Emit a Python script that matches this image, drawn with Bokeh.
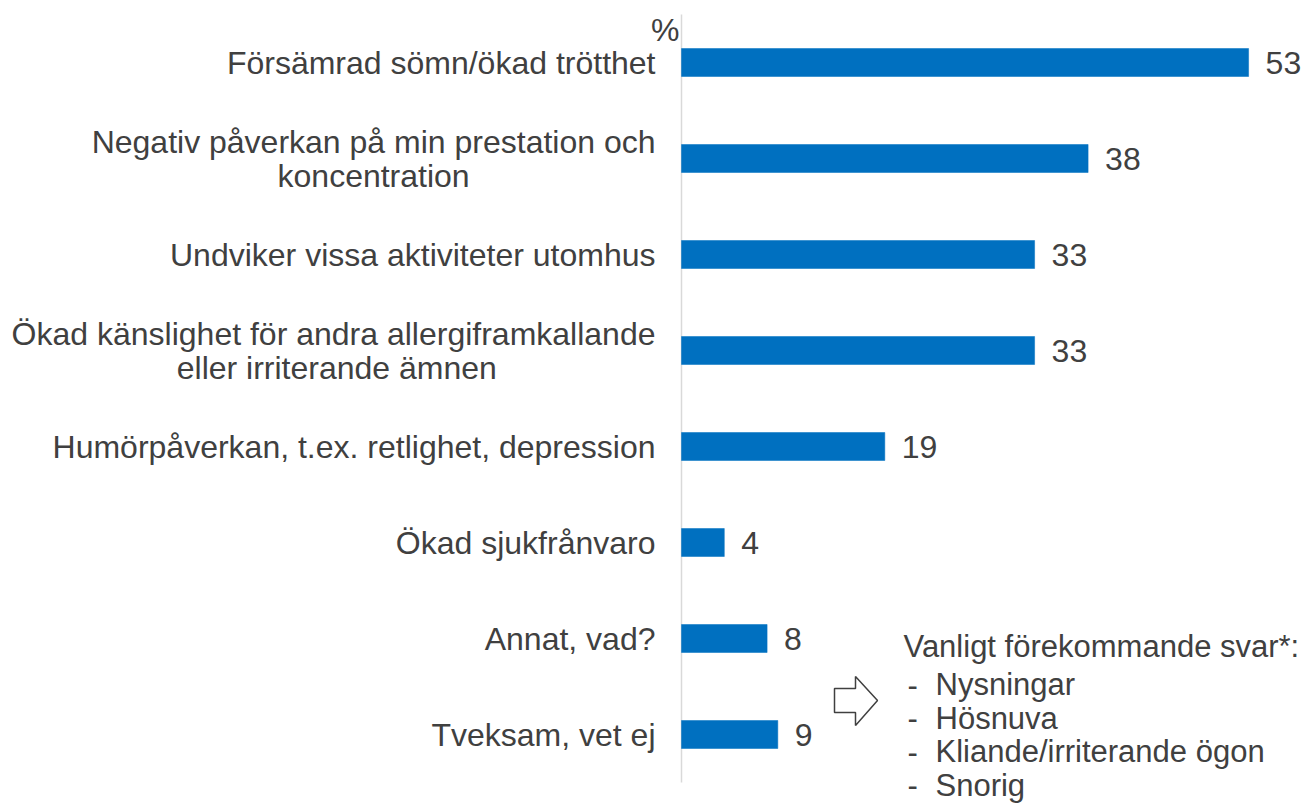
from bokeh.plotting import figure
from bokeh.models import ColumnDataSource, LabelSet, Label, Range1d, PolyAnnotation
from bokeh.core.properties import value
from bokeh.embed import file_html
from bokeh.resources import INLINE

# ---------------- data ----------------
categories = [
    "Försämrad sömn/ökad trötthet",
    "Negativ påverkan på min prestation och\nkoncentration",
    "Undviker vissa aktiviteter utomhus",
    "Ökad känslighet för andra allergiframkallande\neller irriterande ämnen",
    "Humörpåverkan, t.ex. retlighet, depression",
    "Ökad sjukfrånvaro",
    "Annat, vad?",
    "Tveksam, vet ej",
]
values = [53, 38, 33, 33, 19, 4, 8, 9]
unit_label = "%"
note_title = "Vanligt förekommande svar*:"
note_items = ["Nysningar", "Hösnuva", "Kliande/irriterande ögon", "Snorig"]

# ---------------- style ----------------
FONT = value("Liberation Sans")
FS = "32px"
NFS = "31px"
TXT = "#404040"
BAR = "#0070C0"
W, H = 1308, 806
X0_PX = 681.0          # page x of value 0
PX_PER_UNIT = 10.7
ROW0_PX = 62.0         # page y of first row centre
ROW_PX = 96.0

def dx(px):
    return (px - X0_PX) / PX_PER_UNIT

def dy(py):
    return (py - ROW0_PX) / ROW_PX

n = len(categories)
pos = list(range(n))

p = figure(width=W, height=H, output_backend="svg", toolbar_location=None,
           x_axis_location=None, y_axis_location=None,
           x_range=Range1d(dx(0), dx(W)), y_range=Range1d(dy(H), dy(0)),
           min_border_left=0, min_border_right=0, min_border_top=0,
           min_border_bottom=0)
p.outline_line_color = None
p.grid.visible = False
p.background_fill_color = "white"
p.border_fill_color = "white"

# category axis line (spans the category band)
p.segment(x0=[0], x1=[0], y0=[-0.5], y1=[n - 0.5], line_color="#d9d9d9", line_width=1.5)

src = ColumnDataSource(dict(pos=pos, val=values, lbl=[str(v) for v in values]))
p.hbar(y="pos", left=0, right="val", height=28 / ROW_PX, source=src,
       fill_color=BAR, line_color=BAR, line_width=0.5)

p.add_layout(LabelSet(x="val", y="pos", text="lbl", source=src, x_offset=17,
                      text_baseline="middle", text_font=FONT, text_font_size=FS,
                      text_color=TXT))

# category labels (single line right-aligned, two-line block centred)
single = dict(pos=[], t=[])
first = dict(pos=[], t=[])
second = dict(pos=[], t=[], off=[])
LINE_W_EM = {"Negativ påverkan på min prestation och": 17.619,
             "Ökad känslighet för andra allergiframkallande": 19.918}
for i, c in zip(pos, categories):
    parts = c.split("\n")
    if len(parts) == 1:
        single["pos"].append(i); single["t"].append(c)
    else:
        first["pos"].append(i); first["t"].append(parts[0])
        second["pos"].append(i); second["t"].append(parts[1])
        second["off"].append(-26 - LINE_W_EM[parts[0]] * 32 / 2)

common = dict(text_font=FONT, text_font_size=FS, text_color=TXT, text_baseline="middle")
p.add_layout(LabelSet(x=0, y="pos", text="t", source=ColumnDataSource(single),
                      x_offset=-26, text_align="right", **common))
p.add_layout(LabelSet(x=0, y="pos", text="t", source=ColumnDataSource(first),
                      x_offset=-26, y_offset=17, text_align="right", **common))
p.add_layout(LabelSet(x=0, y="pos", text="t", source=ColumnDataSource(second),
                      x_offset="off", y_offset=-17, text_align="center", **common))

# "%" unit label
p.add_layout(Label(x=0, y=-0.5, text=unit_label, x_offset=-2, y_offset=-15,
                   text_align="right", text_baseline="middle",
                   text_font="Liberation Sans", text_font_size=FS, text_color=TXT))

# arrow
ax = [834, 855, 855, 877, 855, 855, 834]
ay = [688, 688, 676, 700, 725, 712, 712]
p.add_layout(PolyAnnotation(xs=[dx(v) for v in ax], ys=[dy(v) for v in ay],
                            fill_color="white", fill_alpha=1.0,
                            line_color="#404040", line_alpha=1.0, line_width=1.5))

# note block
p.add_layout(Label(x=dx(903), y=dy(646), text=note_title, text_baseline="middle",
                   text_font="Liberation Sans", text_font_size=NFS, text_color=TXT))
for k, item in enumerate(note_items):
    yy = dy(684 + 33.5 * k)
    p.add_layout(Label(x=dx(907), y=yy, text="-", text_baseline="middle",
                       text_font="Liberation Sans", text_font_size=NFS, text_color=TXT))
    p.add_layout(Label(x=dx(935), y=yy, text=item, text_baseline="middle",
                       text_font="Liberation Sans", text_font_size=NFS, text_color=TXT))

open("out.html", "w").write(file_html(p, INLINE))
